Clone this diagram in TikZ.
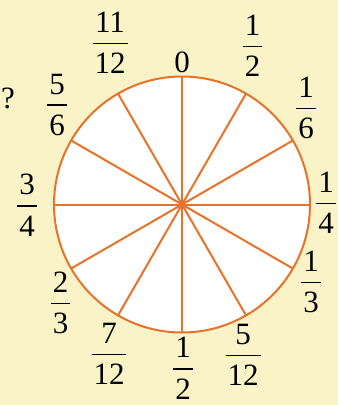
\documentclass[tikz,border=0pt]{standalone}
\usepackage{fontspec}
\setmainfont{Liberation Serif}
\definecolor{bg}{RGB}{250,243,200}
\definecolor{org}{RGB}{232,114,40}
\newcommand\myfr[2]{{\setlength{\arrayrulewidth}{1.6pt}\begin{tabular}{@{\hspace{2pt}}c@{\hspace{2pt}}}#1\rule[-10pt]{0pt}{0pt}\\\hline\rule{0pt}{29.5pt}#2\end{tabular}}}
\begin{document}
\begin{tikzpicture}[x=1pt,y=-1pt,
  lab/.style={inner sep=0pt,font=\fontsize{31}{31}\selectfont},
  frac/.style={lab,yshift=-3.55pt},
  ring/.style={draw=org,line width=2pt,fill=white},
  spoke/.style={draw=org,line width=2pt}]
\fill[bg] (0,0) rectangle (338,405);
\useasboundingbox (0,0) rectangle (338,405);
\coordinate (O) at (182,204.5);
\draw[ring] (O) circle[radius=128pt];
\foreach \a [count=\i] in {0,30,...,330}
  \draw[spoke] (O) -- ++(\a:128) coordinate (p\i);
\node[lab,anchor=base] (z0) at (182,72) {0};
\node[frac] (f1) at (252.5,46.5) {\myfr{1}{2}};
\node[frac] (f2) at (306,108.5) {\myfr{1}{6}};
\node[frac] (f3) at (326,203.5) {\myfr{1}{4}};
\node[frac] (f4) at (311,282.5) {\myfr{1}{3}};
\node[frac] (f5) at (243,355.5) {\myfr{5}{12}};
\node[frac] (f6) at (183,368.7) {\myfr{1}{2}};
\node[frac] (f7) at (109,354.5) {\myfr{7}{12}};
\node[frac] (f8) at (60.5,303.5) {\myfr{2}{3}};
\node[frac] (f9) at (27,205.7) {\myfr{3}{4}};
\node[frac] (f10) at (57,105) {\myfr{5}{6}};
\node[frac] (f11) at (110,43.5) {\myfr{11}{12}};
\node[lab,anchor=base] (q) at (8,108) {?};
\end{tikzpicture}
\end{document}
